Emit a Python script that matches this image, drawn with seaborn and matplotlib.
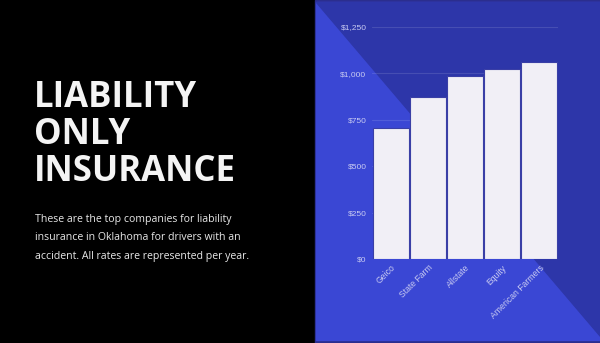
import matplotlib
matplotlib.use("Agg")
import matplotlib.pyplot as plt
from matplotlib.patches import Polygon, Rectangle
from matplotlib.ticker import FuncFormatter
import seaborn as sns
import pandas as pd

companies = ["Geico", "State Farm", "Allstate", "Equity", "American Farmers"]
rates = [707, 875, 986, 1025, 1060]
y_ticks = [0, 250, 500, 750, 1000, 1250]

title_lines = ["LIABILITY", "ONLY", "INSURANCE"]
paragraph = ["These are the top companies for liability",
             "insurance in Oklahoma for drivers with an",
             "accident. All rates are represented per year."]

df = pd.DataFrame({"company": companies, "rate": rates})

sns.set_theme(style="white")
plt.rcParams["font.family"] = ["Liberation Sans", "DejaVu Sans"]

W, H = 600, 343
fig = plt.figure(figsize=(6, 3.43), dpi=100, facecolor="black")

# background decoration
bg = fig.add_axes([0, 0, 1, 1])
bg.set_xlim(0, W)
bg.set_ylim(H, 0)
bg.axis("off")
bg.add_patch(Rectangle((0, 0), W, H, color="black", zorder=0))
bg.add_patch(Rectangle((315, 0), W - 315, H, color="#2B2E8E", zorder=1))
bg.add_patch(Rectangle((316, 2), W - 316, 338, color="#3A47D4", zorder=2))
bg.add_patch(Polygon([(316, 2), (W, 2), (W, 336)], closed=True,
                     color="#2D36A9", zorder=3))

# title
for i, line in enumerate(title_lines):
    bg.text(34, 107 + i * 37, line, color="#F4F4F4", fontsize=25,
            fontfamily="Open Sans", fontweight="bold", va="baseline",
            ha="left", zorder=5)
for i, line in enumerate(paragraph):
    bg.text(35, 222 + i * 18.5, line, color="#E8E8E8", fontsize=7.6,
            fontfamily="Open Sans", va="baseline", ha="left", zorder=5)

# chart
ax = fig.add_axes([372 / W, 1 - 259 / H, (558 - 372) / W, (259 - 27) / H])
ax.set_facecolor("none")
sns.barplot(data=df, x="company", y="rate", ax=ax, color="#F1EFF6",
            width=0.97, edgecolor="#3A3FA6", linewidth=0.8, saturation=1,
            zorder=3)
ax.set_ylim(0, 1250)
ax.set_yticks(y_ticks)
ax.yaxis.set_major_formatter(FuncFormatter(lambda v, p: f"${int(v):,}"))
ax.grid(axis="y", color="white", alpha=0.12, linewidth=0.8, zorder=0)
ax.set_xlabel("")
ax.set_ylabel("")
for s in ax.spines.values():
    s.set_visible(False)
ax.tick_params(axis="y", length=0, pad=4, labelsize=6, labelcolor="#C9CBF2")
ax.tick_params(axis="x", length=0, pad=3, labelsize=6.2, labelcolor="#C9CBF2")
for lab in ax.get_xticklabels():
    lab.set_rotation(45)
    lab.set_ha("right")
    lab.set_rotation_mode("anchor")

fig.savefig("out.png", dpi=100, facecolor="black")
